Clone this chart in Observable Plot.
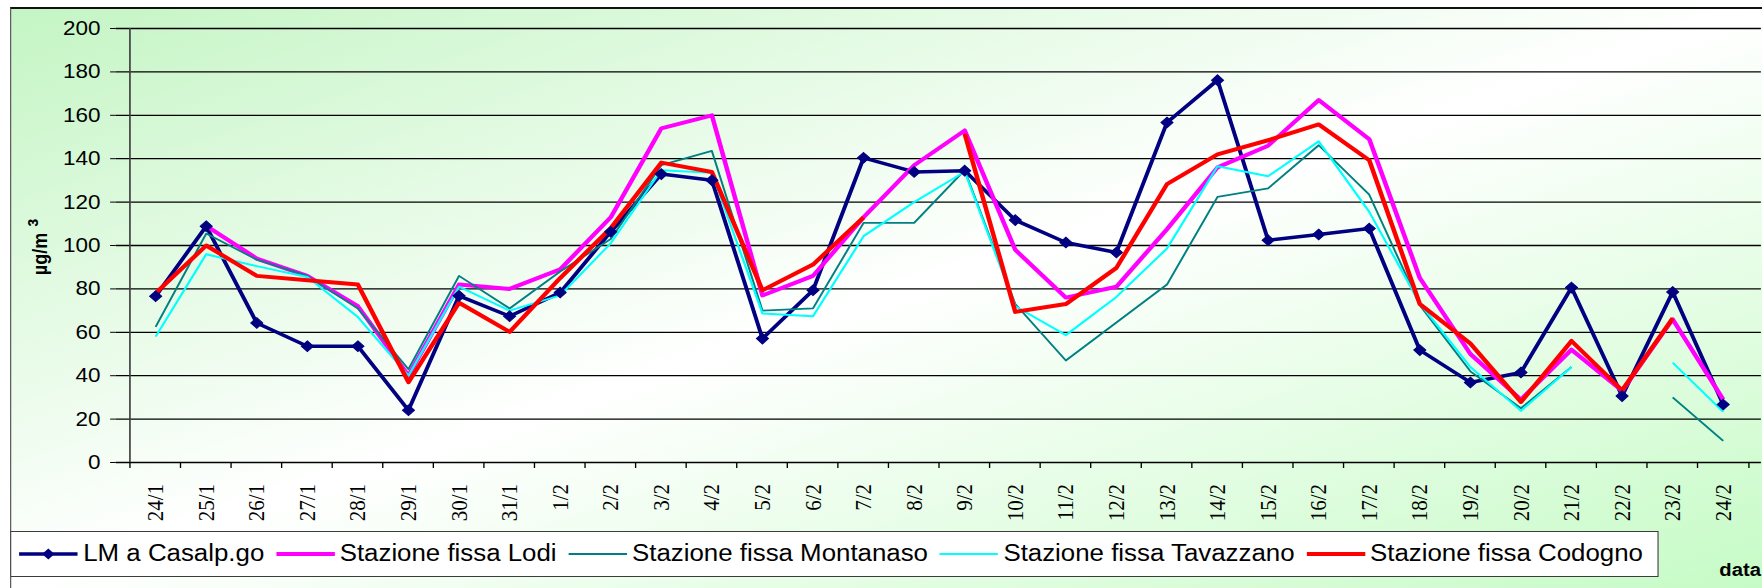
<!DOCTYPE html>
<html><head><meta charset="utf-8">
<script src="https://cdn.jsdelivr.net/npm/d3@7"></script>
<script src="https://cdn.jsdelivr.net/npm/@observablehq/plot@0.6"></script>
<style>
html,body{margin:0;padding:0;background:#fff;overflow:hidden;width:1762px;height:588px}
#wrap{position:relative;width:1568px;height:588px;transform:scaleX(1.12372);transform-origin:0 0;font-family:"Liberation Sans",Arial,sans-serif}
#bg{position:absolute;left:8.9px;top:7.3px;width:1559.1px;height:580.7px;box-sizing:border-box;border-left:1.8px solid #4a4a4a;border-top:2px solid #111;
  background:linear-gradient(to bottom right,#c4f5c4 0%,#ffffff 50%,#c6fbc6 100%)}
#chart{position:absolute;left:0;top:0}
#ylab{position:absolute;left:35.6px;top:246.7px;transform:translate(-50%,-50%) rotate(-90deg);font-weight:bold;font-size:18px;white-space:nowrap;color:#000}
#ylab .sup{margin-left:6px;font-size:24px;line-height:18px}
#legend{position:absolute;left:8.9px;top:530.5px;width:1467.5px;height:46.5px;box-sizing:border-box;border:1.6px solid #3c3c3c;background:#fff;
  display:flex;align-items:center;padding-left:7.6px;font-size:23px;white-space:nowrap;color:#000}
#legend .item{display:flex;align-items:center;margin-right:10.5px}
#legend svg{margin-right:4.6px;overflow:visible}
#xlab{position:absolute;left:1530px;top:561px;font-weight:bold;font-size:18px;line-height:18px;color:#000}
</style></head>
<body>
<div id="wrap">
  <div id="bg"></div>
  <div id="chart"></div>
  <div id="ylab">µg/m<span class="sup">³</span></div>
  <div id="legend"></div>
  <div id="xlab">data</div>
</div>
<script>
// ---- data ----
const dates = ["24/1","25/1","26/1","27/1","28/1","29/1","30/1","31/1","1/2","2/2","3/2","4/2","5/2","6/2","7/2","8/2","9/2","10/2","11/2","12/2","13/2","14/2","15/2","16/2","17/2","18/2","19/2","20/2","21/2","22/2","23/2","24/2"];
const yTicks = [0, 20, 40, 60, 80, 100, 120, 140, 160, 180, 200];
const seriesNames = ["LM a Casalp.go", "Stazione fissa Lodi", "Stazione fissa Montanaso", "Stazione fissa Tavazzano", "Stazione fissa Codogno"];
const lmCasalpusterlengo = [76.6,108.9,64.3,53.6,53.6,24.1,76.8,67.4,78.3,106.3,132.9,130.1,57.1,79.4,140.4,133.9,134.5,111.7,101.4,96.8,156.7,176.2,102.4,105.1,107.8,51.8,36.9,41.5,80.6,30.6,78.6,26.7];
const lodi = [null,109,94,86,72,40,82,80,89,113,154,160,77,86,113,137,153,98,76,81,107.5,136,146,167,149,85,50,29,52,33,66,29];
const montanaso = [62.5,105.5,93.5,86,71,43,86,71,88,103,137,143.6,70,71,110.4,110.4,134.7,73,47,64.5,82,122.4,126.3,146.2,123.4,72.5,42,25,44,null,30,10];
const tavazzano = [58,96,90.5,85.5,67,40,81,70,77,101,134.7,133.5,68.7,67.4,104.3,120,134,72,58.7,76.3,98.6,136.5,131.9,148,115.5,73.3,44,23.8,44,null,46,23.3];
const codogno = [78,100,86,84,82,37,73.6,60.2,85,108,138.2,133.9,79.4,91.2,113,null,151.5,69.4,73,89.7,128.3,142,148.5,155.8,139.3,73,54.8,27.9,56,33.3,66.4,null];

// ---- styles ----
const seriesValues = [lmCasalpusterlengo, lodi, montanaso, tavazzano, codogno];
const seriesColors = ["#000080", "#ff00ff", "#008080", "#00ffff", "#ff0000"];
const seriesWidths = [3.5, 4, 1.8, 2, 4];

const rows = seriesNames.flatMap((name, s) =>
  dates.map((date, i) => ({series: name, date, value: seriesValues[s][i]})));

const W = 1568, H = 530, mL = 103, mR = 1, mT = 28, mB = 68;
const step = (W - mL - mR) / dates.length;

const lineMarks = seriesNames.map((name, s) =>
  Plot.line(rows.filter(r => r.series === name), {
    x: "date", y: "value", stroke: seriesColors[s], strokeWidth: seriesWidths[s],
    strokeLinejoin: "round", strokeLinecap: "butt"
  }));

const plot = Plot.plot({
  width: W, height: H,
  marginLeft: mL, marginRight: mR, marginTop: mT, marginBottom: mB,
  style: {background: "transparent", fontFamily: "'Liberation Sans', Arial, sans-serif", fontSize: "20px", color: "#000", overflow: "visible"},
  x: {type: "point", domain: dates, padding: 0.5, axis: null},
  y: {domain: [0, 200], ticks: yTicks, tickSize: 5, tickPadding: 9, label: null, tickFormat: d => String(d)},
  marks: [
    Plot.ruleY(yTicks, {stroke: "#000", strokeWidth: 1.3}),
    Plot.ruleX([dates[0]], {x: d => d, dx: -step / 2, stroke: "#404040", strokeWidth: 1.5}),
    Plot.ruleX(dates, {x: d => d, dx: -step / 2, y1: () => 0, y2: () => 0, insetBottom: -6, stroke: "#000", strokeWidth: 1.2}),
    Plot.ruleX([dates[dates.length - 1]], {x: d => d, dx: step / 2, y1: () => 0, y2: () => 0, insetBottom: -6, stroke: "#000", strokeWidth: 1.2}),
    Plot.text(dates, {x: d => d, y: () => 0, text: d => d, rotate: -90, textAnchor: "end", dy: 21.5,
      fontFamily: "'Liberation Serif', 'Times New Roman', serif", fontSize: 21, fill: "#000"}),
    ...lineMarks,
    Plot.dot(rows.filter(r => r.series === seriesNames[0]), {x: "date", y: "value", symbol: "diamond2", r: 4.8,
      fill: seriesColors[0], stroke: seriesColors[0], strokeWidth: 1})
  ]
});
document.getElementById("chart").appendChild(plot);

// ---- legend ----
const legend = document.getElementById("legend");
seriesNames.forEach((name, s) => {
  const item = document.createElement("div");
  item.className = "item";
  const ns = "http://www.w3.org/2000/svg";
  const svg = document.createElementNS(ns, "svg");
  svg.setAttribute("width", 52); svg.setAttribute("height", 16);
  const ln = document.createElementNS(ns, "line");
  ln.setAttribute("x1", 0); ln.setAttribute("x2", 52); ln.setAttribute("y1", 8); ln.setAttribute("y2", 8);
  ln.setAttribute("stroke", seriesColors[s]); ln.setAttribute("stroke-width", seriesWidths[s]);
  svg.appendChild(ln);
  if (s === 0) {
    const p = document.createElementNS(ns, "path");
    p.setAttribute("d", "M26,2.5L31.5,8L26,13.5L20.5,8Z");
    p.setAttribute("fill", seriesColors[0]);
    svg.appendChild(p);
  }
  const t = document.createElement("span");
  t.textContent = name;
  item.appendChild(svg); item.appendChild(t);
  legend.appendChild(item);
});
</script>
</body></html>
